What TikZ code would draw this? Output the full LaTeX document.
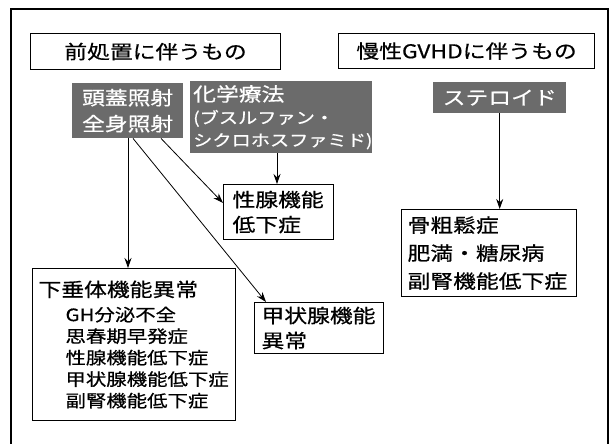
\documentclass[tikz,border=0pt]{standalone}
\usepackage{fontspec}
\newfontfamily\jp[FakeStretch=1.2,FakeBold=0.6]{Noto Sans CJK JP}
\usetikzlibrary{arrows.meta}
\begin{document}
\begin{tikzpicture}[x=1pt,y=-1pt,
  box/.style={draw,line width=1.1pt,rectangle,anchor=north west,inner ysep=0pt,align=left},
  shade/.style={fill=black!58,draw=none,anchor=north west,text=white,inner ysep=0pt},
  arr/.style={line width=0.8pt,-{Stealth[length=10pt,width=7pt]}}]
\useasboundingbox (0,0) rectangle (613,444);
\draw[line width=1.3pt] (11,446) -- (11,9) -- (608,9) -- (608,446);
% headers
\node[box,align=center,minimum width=250pt,minimum height=36pt,font=\jp\fontsize{19}{23}\selectfont] (pre) at (30,33) {前処置に伴うもの};
\node[box,align=center,minimum width=256pt,minimum height=35pt,font=\jp\fontsize{19}{23}\selectfont] (gvhd) at (338,33) {慢性GVHDに伴うもの};
% shaded causes
\node[shade,align=center,inner xsep=0pt,minimum width=111pt,minimum height=55pt,font=\jp\fontsize{19}{26}\selectfont] (irr) at (72,83) {頭蓋照射\\全身照射};
\node[shade,align=left,inner xsep=3pt,text width=176pt,minimum height=72pt,font=\jp\fontsize{16}{22.5}\selectfont] (chem) at (190,81) {{\fontsize{19}{22.5}\selectfont 化学療法}\\(ブスルファン・\\シクロホスファミド)};
\node[shade,align=center,inner xsep=0pt,minimum width=133pt,minimum height=31pt,font=\jp\fontsize{19}{23}\selectfont] (ster) at (433,82) {ステロイド};
% outcome boxes
\node[box,inner xsep=9pt,text width=92pt,minimum height=55pt,font=\jp\fontsize{19}{25}\selectfont] (gonad) at (223,184) {性腺機能\\低下症};
\node[box,inner xsep=6pt,text width=163pt,minimum height=87pt,font=\jp\fontsize{19}{28}\selectfont] (bone) at (401,209) {骨粗鬆症\\肥満・糖尿病\\副腎機能低下症};
\node[box,inner xsep=6pt,text width=191pt,minimum height=152pt,font=\jp\fontsize{17}{21.5}\selectfont] (pit) at (32,268) {{\fontsize{19}{21.5}\selectfont 下垂体機能異常}\\[3pt]
\hspace*{27pt}GH分泌不全\\
\hspace*{27pt}思春期早発症\\
\hspace*{27pt}性腺機能低下症\\
\hspace*{27pt}甲状腺機能低下症\\
\hspace*{27pt}副腎機能低下症};
\node[box,inner xsep=7pt,text width=115pt,minimum height=51pt,font=\jp\fontsize{19}{25}\selectfont] (thy) at (254,302) {甲状腺機能\\異常};
% arrows
\draw[arr] ([xshift=56pt]irr.south west) -- ([xshift=96pt]pit.north west);
\draw[arr] ([xshift=61pt]irr.south west) -- ([xshift=12pt]thy.north west);
\draw[arr] ([xshift=89pt]irr.south west) -- ([yshift=-19pt]gonad.north west);
\draw[arr] ([xshift=87pt]chem.south west) -- ([xshift=54pt]gonad.north west);
\draw[arr] (ster.south) -- (ster.south |- bone.north);
\end{tikzpicture}
\end{document}
